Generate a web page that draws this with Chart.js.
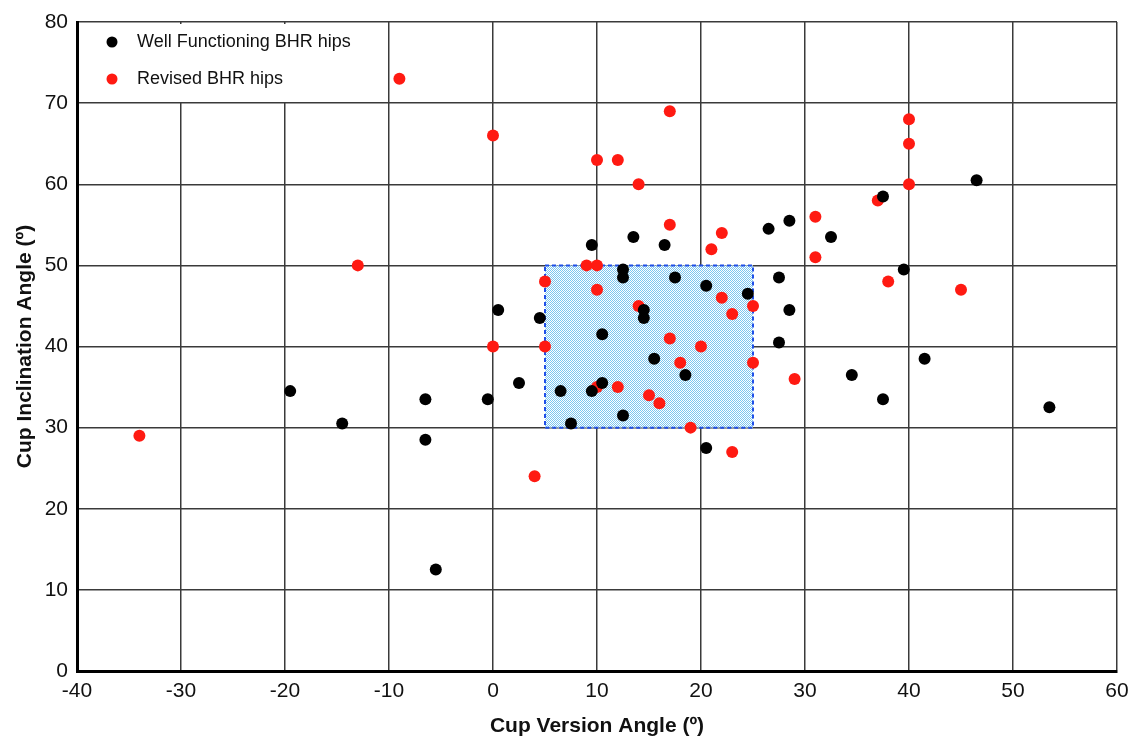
<!DOCTYPE html>
<html>
<head>
<meta charset="utf-8">
<style>
  html, body { margin: 0; padding: 0; background: #fff; }
  #wrap { width: 1129px; height: 737px; }
</style>
<script src="https://cdn.jsdelivr.net/npm/chart.js@4.4.1/dist/chart.umd.min.js"></script>
</head>
<body>
<div id="wrap"><canvas id="hipChart" width="1129" height="737"></canvas></div>
<script>
// Cup version (x) / inclination (y) angles
const wellX = [-19.5, -14.5, -6.5, -6.5, -5.5, -0.5, 0.5, 2.5, 4.5, 6.5, 7.5, 9.5, 9.5, 10.5, 10.5,
    12.5, 12.5, 12.5, 13.5, 14.5, 14.5, 15.5, 16.5, 17.5, 18.5, 20.5, 20.5, 24.5, 26.5, 27.5,
    27.5, 28.5, 28.5, 32.5, 34.5, 37.5, 37.5, 39.5, 41.5, 46.5, 53.5];
const wellY = [34.5, 30.5, 33.5, 28.5, 12.5, 33.5, 44.5, 35.5, 43.5, 34.5, 30.5, 34.5, 52.5, 35.5, 41.5,
    49.5, 48.5, 31.5, 53.5, 44.5, 43.5, 38.5, 52.5, 48.5, 36.5, 47.5, 27.5, 46.5, 54.5, 48.5,
    40.5, 55.5, 44.5, 53.5, 36.5, 58.5, 33.5, 49.5, 38.5, 60.5, 32.5];

const revisedX = [-34, -13, -9, 0, 0, 4, 5, 5, 9, 10, 10, 10, 10, 12, 12, 14, 14, 15, 16, 17, 17, 17,
    18, 19, 20, 21, 22, 22, 23, 23, 25, 25, 29, 31, 31, 37, 38, 40, 40, 40, 45];
const revisedY = [29, 50, 73, 66, 40, 24, 48, 40, 50, 50, 47, 63, 35, 63, 35, 60, 45, 34, 33, 69, 55, 41,
    38, 30, 40, 52, 54, 46, 44, 27, 45, 38, 36, 56, 51, 58, 48, 68, 65, 60, 47];

const seriesLabels = ['Well Functioning BHR hips', 'Revised BHR hips'];

// target zone (version 5-25, inclination 30-50)
const zoneX = [5, 25];
const zoneY = [30, 50];

const xTicks = [-40, -30, -20, -10, 0, 10, 20, 30, 40, 50, 60];
const yTicks = [0, 10, 20, 30, 40, 50, 60, 70, 80];

const toPoints = (xs, ys) => xs.map((x, i) => ({ x: x, y: ys[i] }));

// dotted light blue fill like the original
function makePattern(ctx) {
    const tile = document.createElement('canvas');
    tile.width = 2;
    tile.height = 2;
    const t = tile.getContext('2d');
    t.fillStyle = '#ffffff';
    t.fillRect(0, 0, 2, 2);
    t.fillStyle = '#7cc6f0';
    t.fillRect(0, 0, 1, 1);
    t.fillRect(1, 1, 1, 1);
    return ctx.createPattern(tile, 'repeat');
}

const zoneAndLegend = {
    id: 'zoneAndLegend',
    beforeDatasetsDraw(chart) {
        const { ctx, chartArea, scales } = chart;
        const x0 = scales.x.getPixelForValue(zoneX[0]);
        const x1 = scales.x.getPixelForValue(zoneX[1]);
        const y0 = scales.y.getPixelForValue(zoneY[1]);
        const y1 = scales.y.getPixelForValue(zoneY[0]);
        ctx.save();
        ctx.fillStyle = makePattern(ctx);
        ctx.fillRect(x0, y0, x1 - x0, y1 - y0);
        ctx.strokeStyle = '#1f4fe8';
        ctx.lineWidth = 2;
        ctx.setLineDash([4, 3]);
        ctx.strokeRect(x0, y0, x1 - x0, y1 - y0);
        ctx.setLineDash([]);

        // legend inside the plot, white box without border
        const lx = chartArea.left + 2;
        const ly = chartArea.top + 2;
        ctx.fillStyle = '#fff';
        ctx.fillRect(lx, ly, 306, 78);
        ctx.font = '18px "Liberation Sans", Arial, sans-serif';
        ctx.textBaseline = 'middle';
        chart.data.datasets.forEach((ds, i) => {
            const cy = ly + 18 + i * 37;
            ctx.beginPath();
            ctx.arc(lx + 33, cy, 5.5, 0, Math.PI * 2);
            ctx.fillStyle = ds.backgroundColor;
            ctx.fill();
            ctx.fillStyle = '#111';
            ctx.fillText(ds.label, lx + 58, cy);
        });
        ctx.restore();
    }
};

const ctx = document.getElementById('hipChart').getContext('2d');

new Chart(ctx, {
    type: 'scatter',
    data: {
        datasets: [{
            label: seriesLabels[0],
            data: toPoints(wellX, wellY),
            backgroundColor: '#000000',
            borderWidth: 0,
            pointRadius: 6
        }, {
            label: seriesLabels[1],
            data: toPoints(revisedX, revisedY),
            backgroundColor: '#ff1a12',
            borderWidth: 0,
            pointRadius: 6
        }]
    },
    options: {
        responsive: false,
        animation: false,
        layout: { padding: { top: 22, right: 12, left: 0, bottom: 0 } },
        plugins: {
            legend: { display: false },
            tooltip: { enabled: false }
        },
        scales: {
            x: {
                type: 'linear',
                min: -40,
                max: 60,
                afterBuildTicks: s => { s.ticks = xTicks.map(v => ({ value: v })); },
                afterFit: s => {
                    s.height = 66;
                    s.paddingLeft = 0;
                    s.paddingRight = 0;
                },
                grid: { color: '#3a3a3a', lineWidth: 1.5, drawTicks: false },
                border: { color: '#000', width: 3 },
                ticks: {
                    padding: 8,
                    color: '#111',
                    font: { family: '"Liberation Sans", Arial, sans-serif', size: 21 }
                },
                title: {
                    display: true,
                    text: 'Cup Version Angle (º)',
                    color: '#111',
                    padding: { top: 0, bottom: -2 },
                    font: { family: '"Liberation Sans", Arial, sans-serif', size: 21, weight: 'bold' }
                }
            },
            y: {
                type: 'linear',
                min: 0,
                max: 80,
                afterBuildTicks: s => { s.ticks = yTicks.map(v => ({ value: v })); },
                afterFit: s => {
                    s.width = 77;
                    s.paddingTop = 0;
                    s.paddingBottom = 0;
                },
                grid: { color: '#3a3a3a', lineWidth: 1.5, drawTicks: false },
                border: { color: '#000', width: 3 },
                ticks: {
                    padding: 9,
                    color: '#111',
                    font: { family: '"Liberation Sans", Arial, sans-serif', size: 21 }
                },
                title: {
                    display: true,
                    text: 'Cup Inclination Angle (º)',
                    color: '#111',
                    padding: { top: 13, bottom: 0 },
                    font: { family: '"Liberation Sans", Arial, sans-serif', size: 21, weight: 'bold' }
                }
            }
        }
    },
    plugins: [zoneAndLegend]
});
</script>
</body>
</html>
